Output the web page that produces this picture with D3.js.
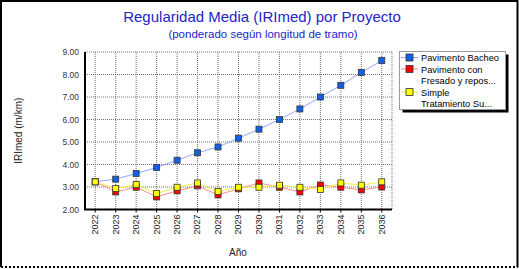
<!DOCTYPE html>
<html>
<head>
<meta charset="utf-8">
<script src="https://cdn.jsdelivr.net/npm/d3@7"></script>
<style>
  body { margin: 0; background: #fff; }
  svg { display: block; font-family: "Liberation Sans", Arial, sans-serif; }
</style>
</head>
<body>
<div id="chart"></div>
<script>
const years = ["2022","2023","2024","2025","2026","2027","2028","2029","2030","2031","2032","2033","2034","2035","2036"];
const bacheo = [3.23, 3.35, 3.6, 3.87, 4.19, 4.52, 4.78, 5.17, 5.57, 6.0, 6.47, 7.0, 7.52, 8.09, 8.62];
const fresado = [3.23, 2.78, 2.99, 2.56, 2.83, 3.05, 2.65, 2.92, 3.18, 2.99, 2.78, 3.09, 2.99, 2.87, 3.0];
const simple = [3.23, 2.93, 3.11, 2.71, 2.99, 3.18, 2.8, 2.99, 2.99, 3.08, 2.99, 2.89, 3.18, 3.08, 3.23];
const yTicks = [2, 3, 4, 5, 6, 7, 8, 9];

const series = [
  {name: ["Pavimento Bacheo"], values: bacheo, fill: "#1060e8", line: "#90a8ff"},
  {name: ["Pavimento con", "Fresado y repos..."], values: fresado, fill: "#ff0000", line: "#ff8c8c"},
  {name: ["Simple", "Tratamiento Su..."], values: simple, fill: "#ffff00", line: "#f4f040"}
];

const W = 519, H = 269;
const plot = {left: 85, right: 392, top: 52, bottom: 209.5};

const svg = d3.select("#chart").append("svg")
    .attr("width", W)
    .attr("height", H);

// outer frame
svg.append("path")
    .attr("d", "M1,267 L1,1 L517.5,1 L517.5,267")
    .attr("fill", "none").attr("stroke", "#000").attr("stroke-width", 2);
svg.append("line")
    .attr("x1", 1).attr("x2", 518).attr("y1", 267).attr("y2", 267)
    .attr("stroke", "#000").attr("stroke-width", 2).attr("stroke-dasharray", "2,2");

// titles
svg.append("text")
    .attr("x", 262).attr("y", 22)
    .attr("text-anchor", "middle")
    .attr("font-size", 15)
    .attr("fill", "#2424c8")
    .text("Regularidad Media (IRImed) por Proyecto");
svg.append("text")
    .attr("x", 263).attr("y", 38)
    .attr("text-anchor", "middle")
    .attr("font-size", 11.5)
    .attr("fill", "#2424c8")
    .text("(ponderado según longitud de tramo)");

const x = d3.scaleBand().domain(years).range([plot.left, plot.right]);
const y = d3.scaleLinear().domain([2, 9]).range([plot.bottom, plot.top]);
const cx = d => x(d) + x.bandwidth() / 2;

// grid
const grid = svg.append("g");
grid.selectAll("line.h")
    .data(yTicks.slice(1))
    .join("line")
    .attr("x1", plot.left).attr("x2", plot.right)
    .attr("y1", d => y(d)).attr("y2", d => y(d))
    .attr("stroke", "#707070").attr("stroke-dasharray", "1,1");
grid.selectAll("line.v")
    .data(years)
    .join("line")
    .attr("x1", d => cx(d)).attr("x2", d => cx(d))
    .attr("y1", plot.top).attr("y2", plot.bottom)
    .attr("stroke", "#707070").attr("stroke-dasharray", "1,1");
grid.append("line")
    .attr("x1", plot.right).attr("x2", plot.right)
    .attr("y1", plot.top).attr("y2", plot.bottom)
    .attr("stroke", "#707070").attr("stroke-dasharray", "1,1");

// axes
const yAxis = d3.axisLeft(y).tickValues(yTicks).tickFormat(d3.format(".2f")).tickSize(0).tickPadding(6);
svg.append("g")
    .attr("transform", "translate(" + plot.left + ",0)")
    .call(yAxis)
    .call(g => g.select(".domain").remove())
    .selectAll("text")
    .attr("font-size", 8.5)
    .attr("fill", "#333");

const xAxis = d3.axisBottom(x).tickSize(3);
svg.append("g")
    .attr("transform", "translate(0," + plot.bottom + ")")
    .call(xAxis)
    .call(g => g.select(".domain").remove())
    .selectAll("text")
    .attr("font-size", 9)
    .attr("fill", "#222")
    .attr("transform", "rotate(-90)")
    .attr("text-anchor", "end")
    .attr("x", -5).attr("y", 0).attr("dy", "0.32em");

svg.append("path")
    .attr("d", "M" + plot.left + "," + plot.top + " L" + plot.left + "," + plot.bottom + " L" + plot.right + "," + plot.bottom)
    .attr("fill", "none").attr("stroke", "#000").attr("stroke-width", 2);

svg.append("text")
    .attr("transform", "translate(22," + ((plot.top + plot.bottom) / 2) + ") rotate(-90)")
    .attr("text-anchor", "middle")
    .attr("font-size", 10)
    .attr("fill", "#222")
    .text("IRImed (m/km)");

svg.append("text")
    .attr("x", 238).attr("y", 256)
    .attr("text-anchor", "middle")
    .attr("font-size", 10)
    .attr("fill", "#222")
    .text("Año");

// series
const line = d3.line().x((d, i) => cx(years[i])).y(d => y(d));
series.forEach(s => {
  svg.append("path")
      .datum(s.values)
      .attr("d", line)
      .attr("fill", "none")
      .attr("stroke", s.line)
      .attr("stroke-width", 1);
});
series.forEach(s => {
  svg.append("g")
      .selectAll("rect")
      .data(s.values)
      .join("rect")
      .attr("x", (d, i) => cx(years[i]) - 3)
      .attr("y", d => y(d) - 3)
      .attr("width", 6).attr("height", 6)
      .attr("fill", s.fill)
      .attr("stroke", "#333")
      .attr("stroke-width", 0.8);
});

// legend
const lg = svg.append("g");
lg.append("rect")
    .attr("x", 402.5).attr("y", 54.5).attr("width", 106).attr("height", 58)
    .attr("fill", "#000");
lg.append("rect")
    .attr("x", 399.5).attr("y", 51.5).attr("width", 106).attr("height", 58)
    .attr("fill", "#fff").attr("stroke", "#999");

let ly = 57.5;
series.forEach(s => {
  lg.append("line")
      .attr("x1", 401).attr("x2", 418).attr("y1", ly).attr("y2", ly)
      .attr("stroke", s.line);
  lg.append("rect")
      .attr("x", 406).attr("y", ly - 3.5).attr("width", 7).attr("height", 7)
      .attr("fill", s.fill).attr("stroke", "#333").attr("stroke-width", 0.8);
  s.name.forEach((t, j) => {
    lg.append("text")
        .attr("x", 421).attr("y", ly + j * 11.5 + 3.5)
        .attr("font-size", 9.3)
        .attr("fill", "#000")
        .text(t);
  });
  ly += s.name.length * 11.5;
});
</script>
</body>
</html>
